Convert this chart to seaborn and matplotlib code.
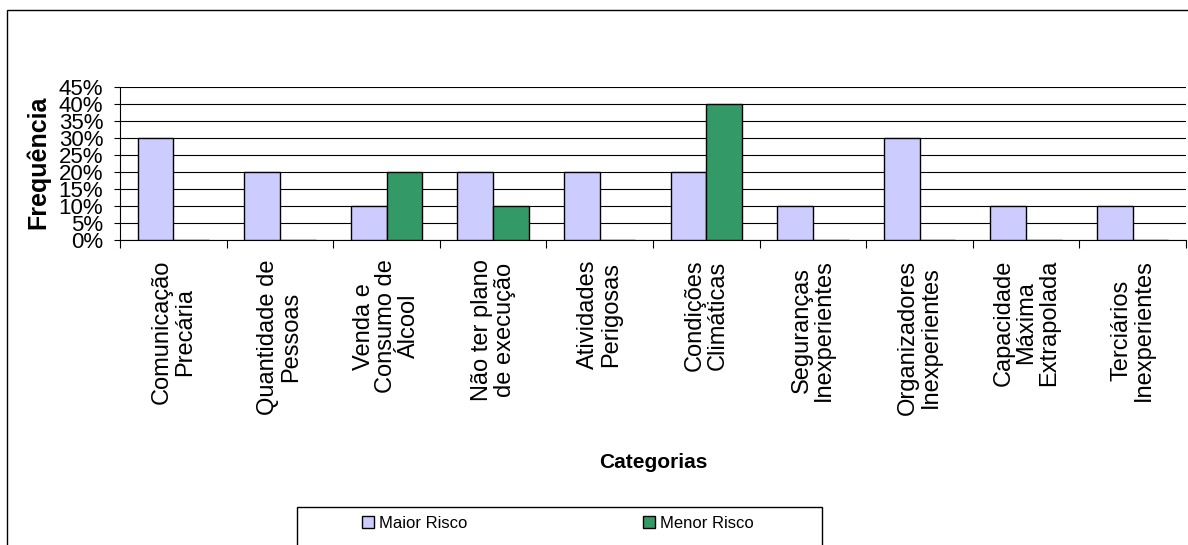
import numpy as np
import pandas as pd
import matplotlib
matplotlib.use("Agg")
import matplotlib.pyplot as plt
from matplotlib.patches import Patch, Rectangle
from matplotlib.ticker import FixedLocator, FuncFormatter
import seaborn as sns

categorias = [
    "Comunicação\nPrecária",
    "Quantidade de\nPessoas",
    "Venda e\nConsumo de\nÁlcool",
    "Não ter plano\nde execução",
    "Atividades\nPerigosas",
    "Condições\nClimáticas",
    "Seguranças\nInexperientes",
    "Organizadores\nInexperientes",
    "Capacidade\nMáxima\nExtrapolada",
    "Terciários\nInexperientes",
]
maior_risco = [30, 20, 10, 20, 20, 20, 10, 30, 10, 10]
menor_risco = [0, 0, 20, 10, 0, 40, 0, 0, 0, 0]
series = ["Maior Risco", "Menor Risco"]
cores = ["#CCCCFF", "#339966"]
y_ticks = [0, 5, 10, 15, 20, 25, 30, 35, 40, 45]

df = pd.DataFrame({
    "Categoria": categorias * 2,
    "Série": [series[0]] * len(categorias) + [series[1]] * len(categorias),
    "Frequência": maior_risco + menor_risco,
})

sns.set_style("white")
plt.rcParams["font.family"] = ["Liberation Sans", "DejaVu Sans"]
plt.rcParams["text.color"] = "black"
plt.rcParams["xtick.color"] = "black"
plt.rcParams["ytick.color"] = "black"
plt.rcParams["axes.labelcolor"] = "black"

W, H = 1188, 545
fig = plt.figure(figsize=(W / 100, H / 100), dpi=100)
ax = fig.add_axes([120 / W, 1 - 240 / H, (1186 - 120) / W, (240 - 87) / H])

sns.barplot(data=df, x="Categoria", y="Frequência", hue="Série",
            palette=cores, saturation=1, width=0.67, gap=0,
            edgecolor="black", linewidth=1.0, ax=ax, legend=False,
            zorder=3)

ax.set_ylim(0, 45)
ax.set_xlim(-0.5, len(categorias) - 0.5)
ax.yaxis.set_major_locator(FixedLocator(y_ticks))
ax.yaxis.set_major_formatter(FuncFormatter(lambda v, p: f"{int(v)}%"))
ax.grid(axis="y", color="black", linewidth=0.8, zorder=0)
ax.set_axisbelow(True)

for s in ["top", "right"]:
    ax.spines[s].set_visible(False)
for s in ["left", "bottom"]:
    ax.spines[s].set_color("black")
    ax.spines[s].set_linewidth(0.8)

ax.tick_params(axis="y", which="major", direction="out", length=4,
               width=0.8, color="black", labelcolor="black", pad=8,
               labelsize=16, left=True)

# category labels at centres, tick marks at category boundaries
ax.set_xticks(np.arange(len(categorias)))
ax.set_xticklabels(categorias, rotation=90, fontsize=17,
                   multialignment="center", linespacing=1.05)
ax.set_xticks(np.arange(len(categorias) + 1) - 0.5, minor=True)
ax.tick_params(axis="x", which="major", length=0, pad=14,
               labelcolor="black")
ax.tick_params(axis="x", which="minor", direction="out", length=6,
               width=0.8, color="black", bottom=True)

ax.set_xlabel("")
ax.set_ylabel("")
fig.text(38 / W, 1 - 162 / H, "Frequência", rotation=90, fontsize=18,
         fontweight="bold", ha="center", va="center", color="black")
fig.text(653 / W, 1 - 463 / H, "Categorias", fontsize=15,
         fontweight="bold", ha="center", va="center", color="black")

# outer chart frame
fig.patches.append(Rectangle((7 / W, -0.05), 1.2, 1 - 10 / H + 0.05,
                             transform=fig.transFigure, fill=False,
                             edgecolor="black", linewidth=1.0))
# legend box
fig.patches.append(Rectangle((297 / W, -0.05), (822 - 297) / W,
                             1 - 507 / H + 0.05, transform=fig.transFigure,
                             fill=False, edgecolor="black", linewidth=1.0))
handles = [Patch(facecolor=c, edgecolor="black", linewidth=1.0, label=s)
           for c, s in zip(cores, series)]
fig.legend(handles=handles, loc="center", ncol=2, frameon=False,
           bbox_to_anchor=(558 / W, 1 - 523 / H), fontsize=12,
           handlelength=0.75, handleheight=0.75, handletextpad=0.3,
           columnspacing=10.5, labelcolor="black")

fig.savefig("out.png", dpi=100)
